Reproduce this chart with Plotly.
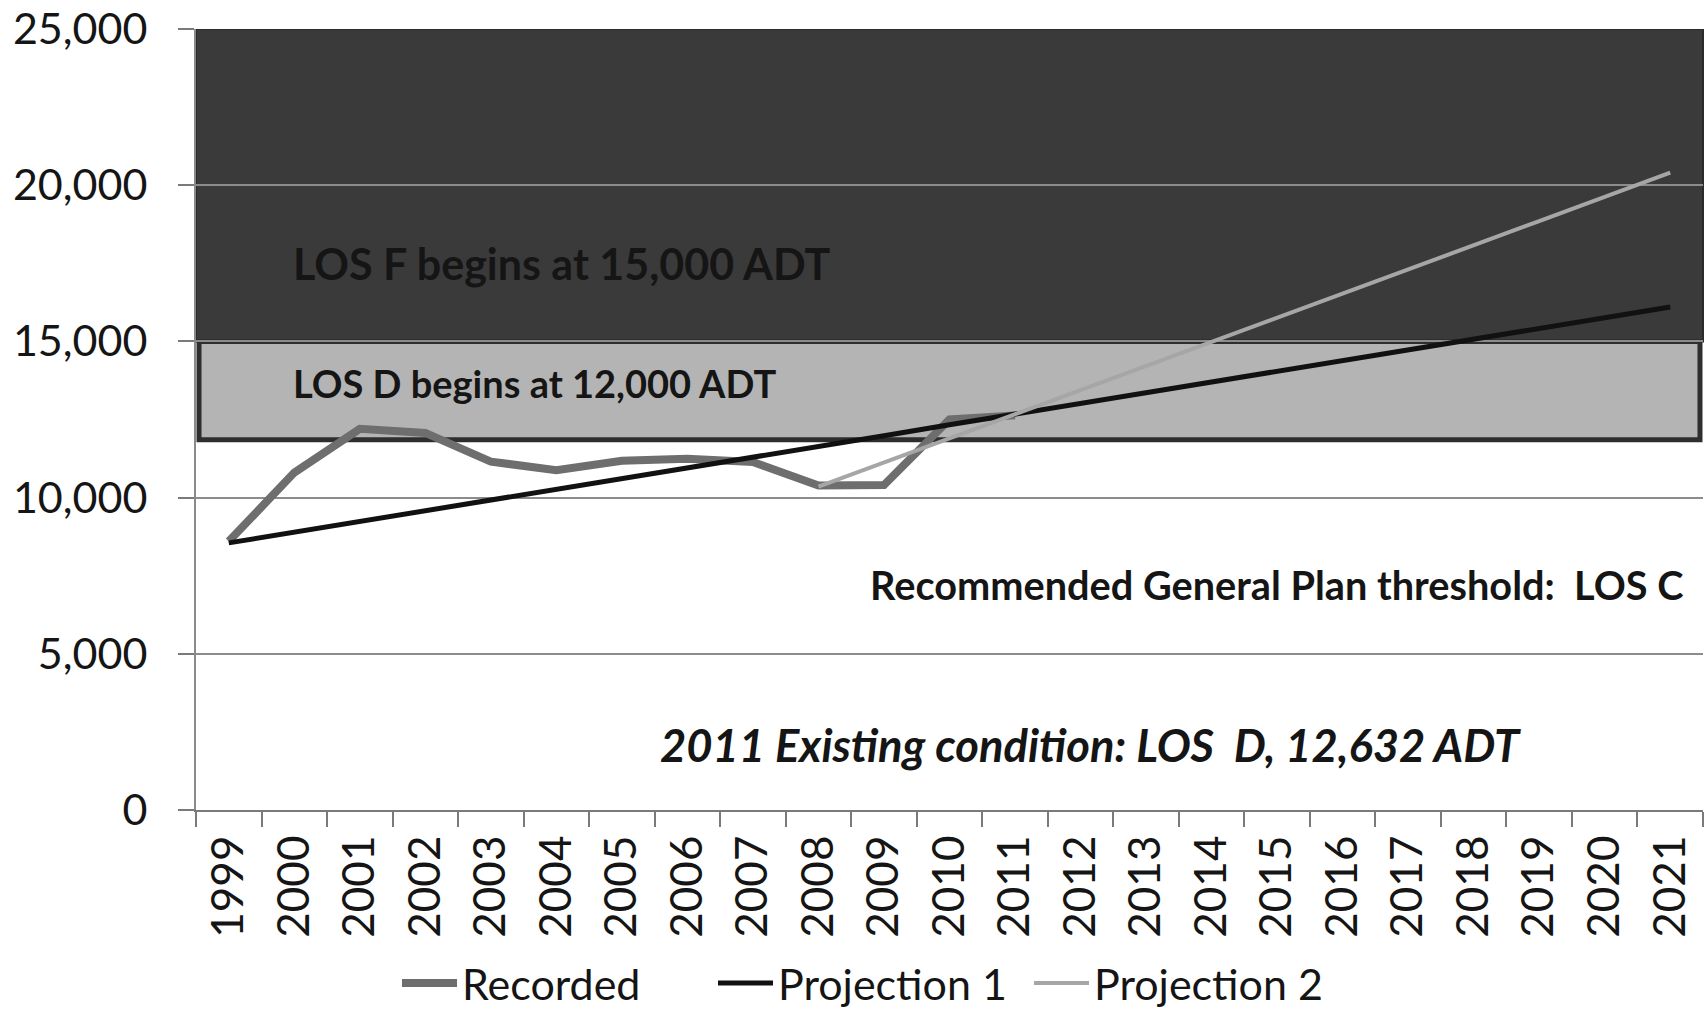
import plotly.graph_objects as go

# category axis
years = ['1999', '2000', '2001', '2002', '2003', '2004', '2005', '2006',
         '2007', '2008', '2009', '2010', '2011', '2012', '2013', '2014',
         '2015', '2016', '2017', '2018', '2019', '2020', '2021']

# ADT counts
recorded_years = years[:13]
recorded = [8600, 10800, 12200, 12070, 11150, 10880, 11180, 11240,
            11140, 10390, 10400, 12500, 12632]

projection1 = [8550, 8890, 9240, 9580, 9920, 10270, 10610, 10950, 11300,
               11640, 11980, 12330, 12670, 13010, 13350, 13700, 14040,
               14380, 14730, 15070, 15410, 15760, 16100]

projection2_years = years[9:]
projection2 = [10350, 11120, 11900, 12670, 13440, 14220, 14990, 15760,
               16540, 17310, 18080, 18850, 19630, 20400]

# LOS bands
los_d_floor = 11850
los_f_floor = 15000
axis_top = 25000

FONT = 'Lato'
TEXT_COLOR = '#151515'

# plot area in pixels (used to place the text boxes)
PLOT_L, PLOT_W, PLOT_B, PLOT_H = 196, 1507, 810, 781


def px_to_paper(x, y):
    return (x - PLOT_L) / PLOT_W, (PLOT_B - y) / PLOT_H


fig = go.Figure()

fig.add_trace(go.Scatter(
    x=recorded_years, y=recorded, mode='lines', name='Recorded',
    line=dict(color='#6e6e6e', width=8)
))
fig.add_trace(go.Scatter(
    x=years, y=projection1, mode='lines', name='Projection 1',
    line=dict(color='#111111', width=5)
))
fig.add_trace(go.Scatter(
    x=projection2_years, y=projection2, mode='lines', name='Projection 2',
    line=dict(color='#a6a6a6', width=4)
))

# LOS F band (dark) and LOS D band (light, outlined)
fig.add_shape(type='rect', xref='paper', yref='y', x0=0, x1=1,
              y0=los_f_floor, y1=axis_top, layer='below',
              fillcolor='#3a3a3a', line=dict(color='#2b2b2b', width=2))
fig.add_shape(type='rect', xref='paper', yref='y', x0=0.002, x1=0.998,
              y0=los_d_floor, y1=los_f_floor, layer='below',
              fillcolor='#b4b4b4', line=dict(color='#2e2e2e', width=5))


def label(text, x, y, size, anchor):
    px, py = px_to_paper(x, y)
    fig.add_annotation(text=text, xref='paper', yref='paper', x=px, y=py,
                       xanchor=anchor, yanchor='middle', showarrow=False,
                       font=dict(family=FONT, size=size, color=TEXT_COLOR))


label('<b>LOS F begins at 15,000 ADT</b>', 291, 263, 43, 'left')
label('<b>LOS D begins at 12,000 ADT</b>', 291, 383, 38, 'left')
label('<b>Recommended General Plan threshold: \u00a0LOS C</b>', 1685, 584, 39.7, 'right')
label('<b><i>2011 Existing condition: LOS \u00a0D, 12,632 ADT</i></b>', 1090, 744, 45.3, 'center')

leg_x, leg_y = px_to_paper(397, 983)
fig.update_layout(
    width=1705, height=1013,
    margin=dict(l=196, r=2, t=29, b=203, autoexpand=False),
    paper_bgcolor='white', plot_bgcolor='white',
    font=dict(family=FONT, size=44, color=TEXT_COLOR),
    showlegend=True,
    legend=dict(orientation='h', x=leg_x, y=leg_y, xanchor='left', yanchor='middle',
                font=dict(family=FONT, size=43, color=TEXT_COLOR),
                itemwidth=55, entrywidth=246, entrywidthmode='pixels',
                tracegroupgap=0, bgcolor='rgba(0,0,0,0)'),
)

fig.update_xaxes(
    type='category', range=[-0.5, 22.5], automargin=False,
    showline=True, linecolor='#7a7a7a', linewidth=2,
    ticks='outside', tickson='boundaries', ticklen=15, tickcolor='#7a7a7a', tickwidth=2,
    tickangle=-90, ticklabelstandoff=6,
    tickfont=dict(family=FONT, size=44, color=TEXT_COLOR),
    showgrid=False,
)
fig.update_yaxes(
    range=[0, axis_top], dtick=5000, tickformat=',d', automargin=False,
    showline=True, linecolor='#8a8a8a', linewidth=2,
    ticks='outside', ticklen=16, tickcolor='#7a7a7a', tickwidth=2,
    ticklabelstandoff=22,
    showgrid=True, gridcolor='#8c8c8c', gridwidth=1.5, zeroline=False,
    tickfont=dict(family=FONT, size=43, color=TEXT_COLOR),
)

# drop the default body margin so the figure sits at the page corner
fig.write_html('out.html', config={'displayModeBar': False},
               post_script="document.body.style.margin = '0';")
